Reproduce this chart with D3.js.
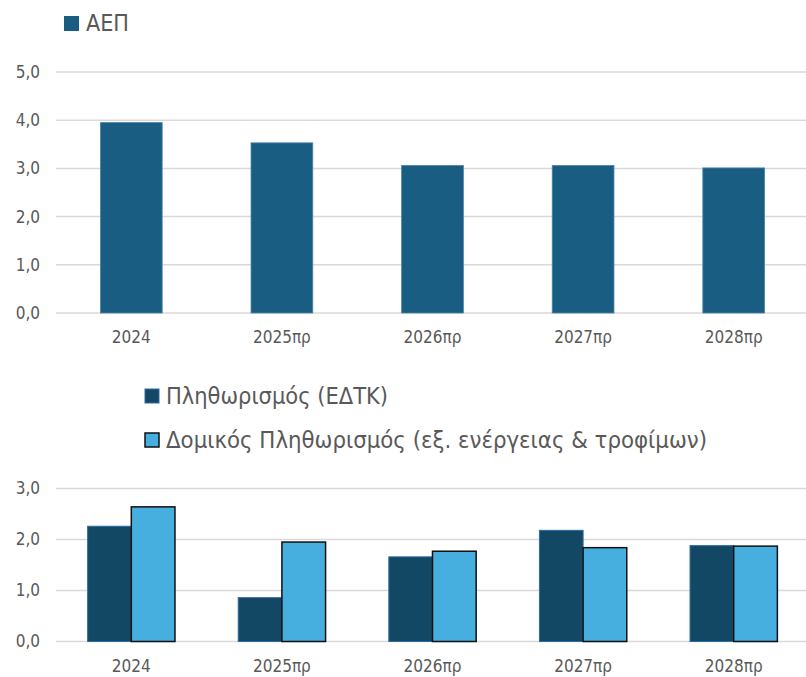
<!DOCTYPE html>
<html>
<head>
<meta charset="utf-8">
<script src="https://cdn.jsdelivr.net/npm/d3@7"></script>
<style>
  html, body { margin: 0; padding: 0; background: #fff; }
  svg { display: block; }
  text { font-family: "DejaVu Sans Condensed", "DejaVu Sans", sans-serif; fill: #595959; }
</style>
</head>
<body>
<svg id="chart" width="806" height="677"></svg>
<script>
// ---- data ----
const categories = ["2024", "2025πρ", "2026πρ", "2027πρ", "2028πρ"];
const gdpValues = [3.95, 3.53, 3.06, 3.06, 3.01];
const gdpTicks = [0, 1, 2, 3, 4, 5];
const cpiValues = [2.26, 0.86, 1.66, 2.18, 1.88];
const coreValues = [2.64, 1.95, 1.77, 1.84, 1.87];
const inflTicks = [0, 1, 2, 3];
const gdpLabel = "ΑΕΠ";
const cpiLabel = "Πληθωρισμός (ΕΔΤΚ)";
const coreLabel = "Δομικός Πληθωρισμός (εξ. ενέργειας & τροφίμων)";

const fmt = v => d3.format(".1f")(v).replace(".", ",");
const svg = d3.select("#chart");
const gridColor = "#d9d9d9";

// ---------- Top chart: GDP ----------
const x1 = d3.scaleBand().domain(categories).range([56, 809]).paddingInner(0.59).paddingOuter(0.295);
const y1 = d3.scaleLinear().domain([0, 5]).range([313, 72]);

const gTop = svg.append("g");
gTop.append("g").selectAll("line").data(gdpTicks).join("line")
  .attr("x1", 56).attr("x2", 806)
  .attr("y1", d => y1(d)).attr("y2", d => y1(d))
  .attr("stroke", gridColor).attr("stroke-width", 1.5);

const yAxis1 = gTop.append("g").attr("transform", "translate(56,0)")
  .call(d3.axisLeft(y1).tickValues(gdpTicks).tickFormat(fmt).tickSize(0).tickPadding(16));
yAxis1.select(".domain").remove();
yAxis1.selectAll("text").attr("font-size", 17).attr("fill", "#595959")
  .style("font-family", '"DejaVu Sans Condensed", sans-serif');

gTop.append("g").selectAll("rect").data(gdpValues).join("rect")
  .attr("x", (d, i) => x1(categories[i]))
  .attr("width", x1.bandwidth())
  .attr("y", d => y1(d))
  .attr("height", d => y1(0) - y1(d))
  .attr("fill", "#195E82").attr("stroke", "#4B82AB").attr("stroke-width", 0.8);

const xAxis1 = gTop.append("g").attr("transform", "translate(0,313)")
  .call(d3.axisBottom(x1).tickSize(0).tickPadding(18));
xAxis1.select(".domain").remove();
xAxis1.selectAll("text").attr("font-size", 17).attr("fill", "#595959")
  .style("font-family", '"DejaVu Sans Condensed", sans-serif');

// legend top
gTop.append("rect").attr("x", 64).attr("y", 16).attr("width", 15).attr("height", 15)
  .attr("fill", "#195E82");
gTop.append("text").attr("x", 86).attr("y", 31).attr("font-size", 23)
  .attr("textLength", 43).attr("lengthAdjust", "spacingAndGlyphs").text(gdpLabel);

// ---------- Bottom chart: inflation ----------
const x2 = d3.scaleBand().domain(categories).range([56, 809]).paddingInner(0.42).paddingOuter(0.21);
const xs = d3.scaleBand().domain(["cpi", "core"]).range([0, x2.bandwidth()]).padding(0);
const y2 = d3.scaleLinear().domain([0, 3]).range([641.5, 488.5]);

const gBot = svg.append("g");
gBot.append("g").selectAll("line").data(inflTicks).join("line")
  .attr("x1", 56).attr("x2", 806)
  .attr("y1", d => y2(d)).attr("y2", d => y2(d))
  .attr("stroke", gridColor).attr("stroke-width", 1.5);

const yAxis2 = gBot.append("g").attr("transform", "translate(56,0)")
  .call(d3.axisLeft(y2).tickValues(inflTicks).tickFormat(fmt).tickSize(0).tickPadding(16));
yAxis2.select(".domain").remove();
yAxis2.selectAll("text").attr("font-size", 17).attr("fill", "#595959")
  .style("font-family", '"DejaVu Sans Condensed", sans-serif');

const groups = gBot.append("g").selectAll("g").data(categories).join("g")
  .attr("transform", d => `translate(${x2(d)},0)`);
groups.append("rect")
  .attr("x", xs("cpi")).attr("width", xs.bandwidth())
  .attr("y", (d, i) => y2(cpiValues[i]))
  .attr("height", (d, i) => y2(0) - y2(cpiValues[i]))
  .attr("fill", "#134864").attr("stroke", "#2E6DA4").attr("stroke-width", 1);
groups.append("rect")
  .attr("x", xs("core")).attr("width", xs.bandwidth())
  .attr("y", (d, i) => y2(coreValues[i]))
  .attr("height", (d, i) => y2(0) - y2(coreValues[i]))
  .attr("fill", "#47AFE0").attr("stroke", "#111").attr("stroke-width", 1.5);

const xAxis2 = gBot.append("g").attr("transform", "translate(0,641.5)")
  .call(d3.axisBottom(x2).tickSize(0).tickPadding(18));
xAxis2.select(".domain").remove();
xAxis2.selectAll("text").attr("font-size", 17).attr("fill", "#595959")
  .style("font-family", '"DejaVu Sans Condensed", sans-serif');

// legend bottom
gBot.append("rect").attr("x", 145).attr("y", 389).attr("width", 14).attr("height", 14)
  .attr("fill", "#134864").attr("stroke", "#2E6DA4").attr("stroke-width", 1);
gBot.append("text").attr("x", 166).attr("y", 404).attr("font-size", 23)
  .attr("textLength", 222).attr("lengthAdjust", "spacingAndGlyphs").text(cpiLabel);
gBot.append("rect").attr("x", 145).attr("y", 433).attr("width", 14).attr("height", 14)
  .attr("fill", "#47AFE0").attr("stroke", "#111").attr("stroke-width", 1.5);
gBot.append("text").attr("x", 166).attr("y", 448).attr("font-size", 23)
  .attr("textLength", 541).attr("lengthAdjust", "spacingAndGlyphs").text(coreLabel);
</script>
</body>
</html>
